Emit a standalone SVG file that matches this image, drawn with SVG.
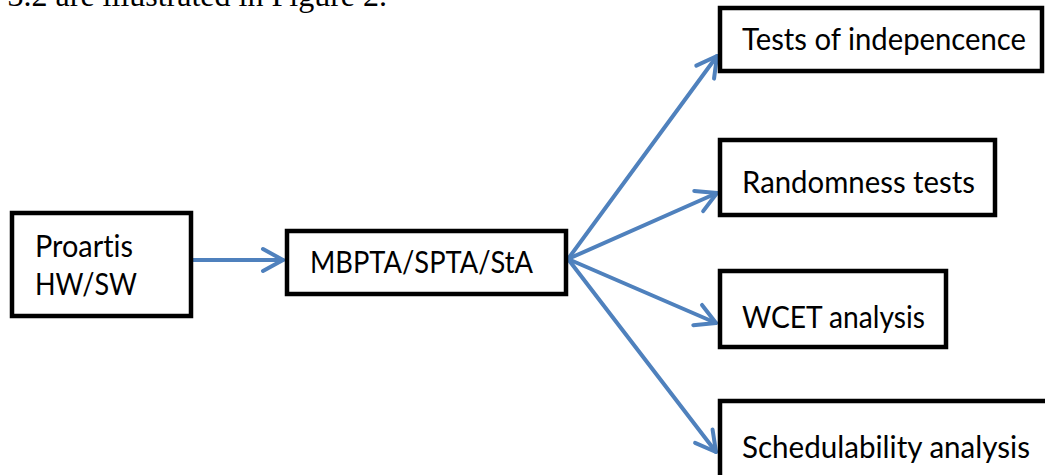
<svg xmlns="http://www.w3.org/2000/svg" width="1045" height="475" viewBox="0 0 1045 475">
  <style>
    .box { fill: #ffffff; stroke: #000000; stroke-width: 4.5; }
    .lbl { font-family: Lato, "Liberation Sans", sans-serif; font-size: 30px; fill: #000000; font-variant-ligatures: none; }
    .conn { stroke: #4f81bd; stroke-width: 4; fill: none; stroke-linecap: round; }
    .cap { font-family: "Liberation Serif", serif; font-size: 32px; fill: #000000; }
  </style>
  <defs>
    <marker id="arr" markerUnits="userSpaceOnUse" viewBox="-26 -16 30 32" markerWidth="30" markerHeight="32" refX="0" refY="0" orient="auto">
      <path d="M-20,-11 L0,0 L-20,11" fill="none" stroke="#4f81bd" stroke-width="4" stroke-linecap="round" stroke-linejoin="round"/>
    </marker>
  </defs>
  <rect width="1045" height="475" fill="#ffffff"/>
  <text class="cap" x="387" y="6" text-anchor="end">3.2 are illustrated in Figure 2.</text>

  <g id="connectors">
    <line class="conn" x1="193" y1="260" x2="283" y2="260" marker-end="url(#arr)"/>
    <line class="conn" x1="568" y1="259" x2="717" y2="56" marker-end="url(#arr)"/>
    <line class="conn" x1="568" y1="259" x2="717" y2="193" marker-end="url(#arr)"/>
    <line class="conn" x1="568" y1="259" x2="716" y2="323" marker-end="url(#arr)"/>
    <line class="conn" x1="568" y1="259" x2="716" y2="452" marker-end="url(#arr)"/>
  </g>

  <g id="node-proartis">
    <rect class="box" x="12" y="213" width="179" height="103"/>
    <text class="lbl" x="35" y="257" textLength="98" lengthAdjust="spacingAndGlyphs">Proartis</text>
    <text class="lbl" x="35" y="295" textLength="102" lengthAdjust="spacingAndGlyphs">HW/SW</text>
  </g>
  <g id="node-mbpta">
    <rect class="box" x="287" y="231" width="279" height="63"/>
    <text class="lbl" x="310" y="273" textLength="223" lengthAdjust="spacingAndGlyphs">MBPTA/SPTA/StA</text>
  </g>
  <g id="node-independence">
    <rect class="box" x="720" y="8" width="322" height="63"/>
    <text class="lbl" x="742" y="50" textLength="284" lengthAdjust="spacingAndGlyphs">Tests of indepencence</text>
  </g>
  <g id="node-randomness">
    <rect class="box" x="720" y="140" width="275" height="75"/>
    <text class="lbl" x="742" y="193" textLength="233" lengthAdjust="spacingAndGlyphs">Randomness tests</text>
  </g>
  <g id="node-wcet">
    <rect class="box" x="720" y="271" width="226" height="76"/>
    <text class="lbl" x="742" y="328" textLength="183" lengthAdjust="spacingAndGlyphs">WCET analysis</text>
  </g>
  <g id="node-schedulability">
    <rect class="box" x="720" y="401" width="400" height="100"/>
    <text class="lbl" x="742" y="458" textLength="288" lengthAdjust="spacingAndGlyphs">Schedulability analysis</text>
  </g>
</svg>
